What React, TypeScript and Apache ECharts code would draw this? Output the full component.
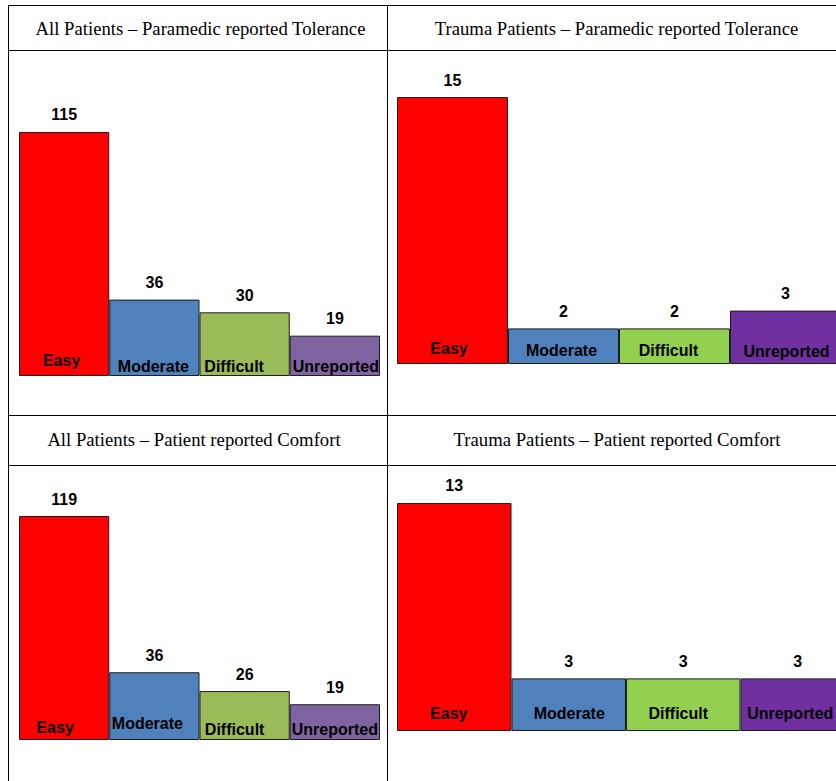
import React, { useEffect, useRef } from "react";
import * as echarts from "echarts";

const categories = ["Easy", "Moderate", "Difficult", "Unreported"];
const allTolerance = [115, 36, 30, 19];
const traumaTolerance = [15, 2, 2, 3];
const allComfort = [119, 36, 26, 19];
const traumaComfort = [13, 3, 3, 3];
const titles = [
  "All Patients \u2013 Paramedic reported Tolerance",
  "Trauma Patients \u2013 Paramedic reported Tolerance",
  "All Patients \u2013 Patient reported Comfort",
  "Trauma Patients \u2013 Patient reported Comfort",
];

const leftColors = ["#FF0000", "#4F81BD", "#9BBB59", "#8064A2"];
const rightColors = ["#FF0000", "#4F81BD", "#92D050", "#7030A0"];

// layout per panel
const panels = [
  { data: allTolerance, colors: leftColors, left: 19, width: 361, base: 376, ppu: 2.122, max: 150,
    nudge: [[-2.5, 16], [-1, 10], [-10.5, 9.5], [1, 10]], title: [200.5, 28] },
  { data: traumaTolerance, colors: rightColors, left: 397, width: 444, base: 364, ppu: 17.8, max: 15,
    nudge: [[-3.5, 16], [-2, 14], [-6, 13.5], [1, 13]], title: [616.5, 28] },
  { data: allComfort, colors: leftColors, left: 19, width: 361, base: 740, ppu: 1.882, max: 150,
    nudge: [[-9, 13], [-7, 17], [-10, 11], [0, 11]], title: [194, 439] },
  { data: traumaComfort, colors: rightColors, left: 397, width: 458, base: 731, ppu: 17.54, max: 15,
    nudge: [[-5.5, 18], [0.5, 18], [-5, 18], [-7.5, 18]], title: [617, 439] },
];

const SANS = "'Liberation Sans', Arial, sans-serif";
const SERIF = "'Liberation Serif', 'Times New Roman', serif";
const CANVAS_W = 900;

export default function App() {
  const ref = useRef<HTMLDivElement>(null);
  useEffect(() => {
    if (!ref.current) return;
    const chart = echarts.init(ref.current, null, { renderer: "svg" });
    const grids: any[] = [];
    const xAxes: any[] = [];
    const yAxes: any[] = [];
    const series: any[] = [];
    panels.forEach((p, i) => {
      const h = p.max * p.ppu;
      grids.push({ left: p.left, width: p.width, top: p.base - h, height: h, containLabel: false });
      xAxes.push({
        type: "category", gridIndex: i, data: categories, boundaryGap: true,
        axisLine: { show: false }, axisTick: { show: false }, axisLabel: { show: false }, splitLine: { show: false },
      });
      yAxes.push({
        type: "value", gridIndex: i, min: 0, max: p.max,
        axisLine: { show: false }, axisTick: { show: false }, axisLabel: { show: false }, splitLine: { show: false },
      });
      series.push({
        type: "bar", xAxisIndex: i, yAxisIndex: i, barCategoryGap: "0%", barGap: "-100%",
        data: p.data.map((v, j) => ({
          value: v,
          itemStyle: { color: p.colors[j], borderColor: "#1e1e1e", borderWidth: 1 },
        })),
        label: {
          show: true, position: "top", distance: 9, color: "#000",
          fontSize: 16, fontWeight: "bold", fontFamily: SANS,
        },
        silent: true,
      });
      series.push({
        type: "bar", xAxisIndex: i, yAxisIndex: i, barCategoryGap: "0%", barGap: "-100%",
        data: p.data.map((v, j) => ({
          value: v,
          itemStyle: { color: "rgba(0,0,0,0)", borderWidth: 0 },
          label: { offset: [p.nudge[j][0], -(p.nudge[j][1] - 8)] },
        })),
        label: {
          show: true, position: "insideBottom", distance: 0, formatter: "{b}", color: "#000",
          fontSize: 16, fontWeight: "bold", fontFamily: SANS,
        },
        silent: true,
      });
    });

    const line = (x1: number, y1: number, x2: number, y2: number) => ({
      type: "line", shape: { x1, y1, x2, y2 }, style: { stroke: "#000", lineWidth: 1 }, z: 10,
    });
    const graphic: any[] = [
      line(8, 5.5, CANVAS_W, 5.5),
      line(8, 50.5, CANVAS_W, 50.5),
      line(8, 415.5, CANVAS_W, 415.5),
      line(8, 465.5, CANVAS_W, 465.5),
      line(8.5, 5, 8.5, 781),
      line(387.5, 5, 387.5, 781),
    ];
    panels.forEach((p, i) => {
      graphic.push({
        type: "text", x: p.title[0], y: p.title[1], z: 10,
        style: {
          text: titles[i], fill: "#000", fontSize: 18.7, fontFamily: SERIF,
          align: "center", verticalAlign: "middle",
        },
      });
    });

    chart.setOption({
      animation: false,
      backgroundColor: "#fff",
      grid: grids,
      xAxis: xAxes,
      yAxis: yAxes,
      series,
      graphic,
    });
    return () => chart.dispose();
  }, []);
  return (
    <div style={{ position: "absolute", left: 0, top: 0, width: 836, height: 781, overflow: "hidden" }}>
      <div ref={ref} style={{ width: CANVAS_W, height: 781 }} />
    </div>
  );
}
